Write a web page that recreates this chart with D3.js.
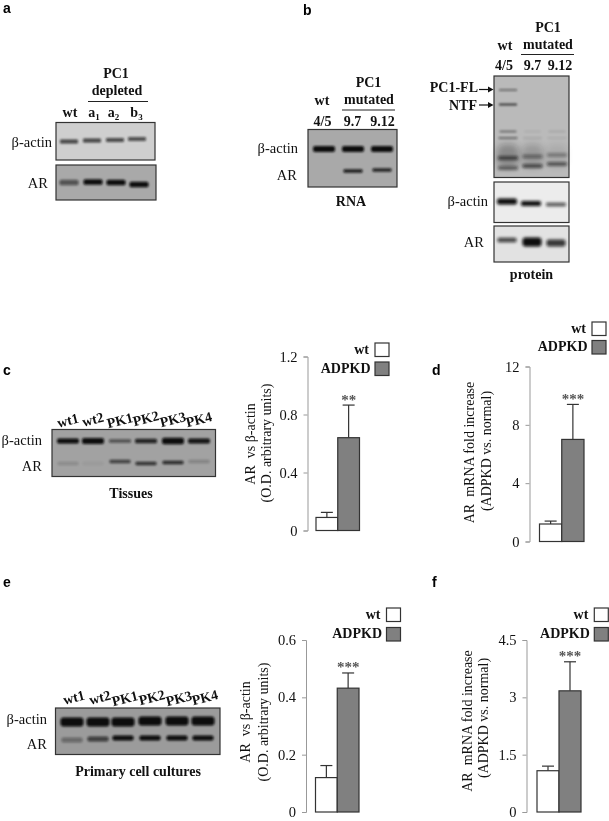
<!DOCTYPE html>
<html>
<head>
<meta charset="utf-8">
<script src="https://cdn.jsdelivr.net/npm/d3@7"></script>
<style>
  html, body { margin: 0; padding: 0; background: #fff; }
  svg { display: block; filter: blur(0.35px); }
  text { font-family: "Liberation Serif", serif; fill: #111; white-space: pre; }
  .b { font-weight: bold; }
  .panel { font-family: "Liberation Sans", sans-serif; font-weight: bold; font-size: 18px; fill: #000; }
</style>
</head>
<body>
<svg id="fig" width="609" height="821"></svg>
<script>
// bar charts
var groups = ["wt", "ADPKD"];
var cValues = [0.09, 0.64], cErrors = [0.125, 0.865], cTicks = [0, 0.4, 0.8, 1.2];
var dValues = [1.2, 7.0], dErrors = [1.4, 9.4], dTicks = [0, 4, 8, 12];
var eValues = [0.12, 0.432], eErrors = [0.162, 0.485], eTicks = [0, 0.2, 0.4, 0.6];
var fValues = [1.08, 3.17], fErrors = [1.2, 3.93], fTicks = [0, 1.5, 3, 4.5];

// blot lane labels
var tissueLanes = ["wt1", "wt2", "PK1", "PK2", "PK3", "PK4"];

// blot band strength, one per lane (0 = no band)
var aActin = [0.7, 0.7, 0.68, 0.65];
var aAR = [0.55, 1, 1, 1];
var rnaActin = [1, 1, 1];
var rnaAR = [0, 0.9, 0.85];
var pcFL = [0.6, 0, 0];
var pcNTF = [0.7, 0, 0];
var pcUp1 = [0.4, 0.06, 0.1];
var pcUp2 = [0.45, 0.1, 0.08];
var pcMid = [0.7, 0.45, 0.38];
var pcLow = [0.55, 0.7, 0.65];
var pActin = [1, 1, 0.7];
var pAR = [0.75, 1, 0.8];
var cActin = [1, 1, 0.55, 0.85, 1, 0.95];
var cAR = [0.15, 0.05, 0.65, 0.75, 0.8, 0.2];
var eActin = [1, 1, 1, 1, 1, 1];
var eAR = [0.35, 0.65, 1, 1, 1, 1];

var svg = d3.select("#fig");
var defs = svg.append("defs");
[["soft", 0.9], ["soft2", 1.5], ["smear", 3.2]].forEach(function(f) {
  defs.append("filter").attr("id", f[0])
      .attr("x", "-30%").attr("y", "-200%").attr("width", "160%").attr("height", "500%")
    .append("feGaussianBlur").attr("stdDeviation", f[1]);
});

// one line of text
function label(str, x, y, opts) {
  opts = opts || {};
  return svg.append("text")
      .attr("x", x).attr("y", y)
      .attr("class", opts.bold ? "b" : null)
      .attr("text-anchor", opts.anchor || "middle")
      .attr("transform", opts.rotate ? "rotate(" + opts.rotate + "," + x + "," + y + ")" : null)
      .style("font-size", (opts.size || 14) + "px")
      .text(str);
}

// grey gel/film with rows of blurred bands
function blot(box, lanes, rows, bg) {
  var g = svg.append("g");
  g.append("rect")
      .attr("x", box[0]).attr("y", box[1])
      .attr("width", box[2] - box[0]).attr("height", box[3] - box[1])
      .attr("fill", bg).attr("stroke", "#333").attr("stroke-width", 1.2);
  rows.forEach(function(row) {
    function bh(i) { return row.hs ? row.hs[i] : row.h; }
    g.selectAll(null)
        .data(row.values)
      .enter().append("rect")
        .attr("x", function(d, i) { return lanes[i] - row.w / 2; })
        .attr("y", function(d, i) { return row.y + (row.dy ? row.dy[i] : 0) - bh(i) / 2; })
        .attr("width", row.w)
        .attr("height", function(d, i) { return bh(i); })
        .attr("rx", function(d, i) { return bh(i) / 3; })
        .attr("fill", "#0a0a0a")
        .attr("opacity", function(d) { return d; })
        .attr("filter", "url(#" + (row.blur || "soft") + ")");
  });
}

// bar chart with axis, error caps and legend
function barChart(c) {
  var y = d3.scaleLinear().domain(c.domain).range([c.y0, c.yTop]);
  var x = d3.scaleBand().domain(groups).range([c.left, c.right]);

  var axis = svg.append("g")
      .attr("transform", "translate(" + c.axisX + ",0)")
      .call(d3.axisLeft(y).tickValues(c.ticks).tickSize(4).tickPadding(6)
        .tickFormat(function(d) { return String(d); }));
  axis.selectAll("path, line").attr("stroke", "#999").attr("stroke-width", 1);
  axis.selectAll("text")
      .style("font-size", "14.5px")
      .attr("fill", "#111")
      .style("font-family", '"Liberation Serif", serif');

  var g = svg.append("g");
  g.selectAll(".err")
      .data(c.errors)
    .enter().append("line")
      .attr("x1", function(d, i) { return x(groups[i]) + x.bandwidth() / 2; })
      .attr("x2", function(d, i) { return x(groups[i]) + x.bandwidth() / 2; })
      .attr("y1", function(d, i) { return y(c.values[i]); })
      .attr("y2", function(d) { return y(d); })
      .attr("stroke", "#333").attr("stroke-width", 1.2);
  g.selectAll(".cap")
      .data(c.errors)
    .enter().append("line")
      .attr("x1", function(d, i) { return x(groups[i]) + x.bandwidth() / 2 - 6; })
      .attr("x2", function(d, i) { return x(groups[i]) + x.bandwidth() / 2 + 6; })
      .attr("y1", function(d) { return y(d); })
      .attr("y2", function(d) { return y(d); })
      .attr("stroke", "#333").attr("stroke-width", 1.2);
  g.selectAll(".bar")
      .data(c.values)
    .enter().append("rect")
      .attr("x", function(d, i) { return x(groups[i]); })
      .attr("y", function(d) { return y(d); })
      .attr("width", x.bandwidth())
      .attr("height", function(d) { return c.y0 - y(d); })
      .attr("fill", function(d, i) { return i ? "#808080" : "#fff"; })
      .attr("stroke", "#333").attr("stroke-width", 1.2);

  label(c.stars, x("ADPKD") + x.bandwidth() / 2, y(c.errors[1]) - 0.5, {size: 15, bold: true}).style("fill", "#555");

  groups.forEach(function(name, i) {
    g.append("rect")
        .attr("x", c.legX).attr("y", c.legY[i])
        .attr("width", 14).attr("height", 13.5)
        .attr("fill", i ? "#808080" : "#fff")
        .attr("stroke", "#333").attr("stroke-width", 1.2);
    label(name, c.legX - 5 + (i ? 0.5 : -1), c.legY[i] + 10.5, {bold: true, anchor: "end"});
  });

  label(c.title[0], c.titleX[0], c.titleY[0], {rotate: -90});
  label(c.title[1], c.titleX[1], c.titleY[1], {rotate: -90});
}

// panel letters
label("a", 3, 12.5, {anchor: "start"}).attr("class", "panel");
label("b", 303, 15, {anchor: "start"}).attr("class", "panel");
label("c", 3, 375, {anchor: "start"}).attr("class", "panel");
label("d", 432, 375, {anchor: "start"}).attr("class", "panel");
label("e", 3, 587, {anchor: "start"}).attr("class", "panel");
label("f", 432, 587, {anchor: "start"}).attr("class", "panel");

// panel a
blot([56, 122.5, 155, 160], [69, 92, 115, 137],
  [{y: 141, h: 4, w: 18, values: aActin, dy: [0.5, -0.5, -1, -2]}], "#cfcfcf");
blot([56, 165, 156, 200], [69, 93, 116, 139],
  [{y: 182.5, h: 5.5, w: 19, values: aAR, dy: [0, -0.5, 0, 2]}], "#a9a9a9");
label("PC1", 116, 78, {bold: true});
label("depleted", 117, 95, {bold: true});
svg.append("line").attr("x1", 88).attr("x2", 148).attr("y1", 101.5).attr("y2", 101.5).attr("stroke", "#222");
label("wt", 70, 116.5, {bold: true});
[["a", "1", 94], ["a", "2", 113.5], ["b", "3", 136.5]].forEach(function(s) {
  var t = label(s[0], s[2], 116.5, {bold: true});
  t.append("tspan").attr("dy", 3).style("font-size", "9px").text(s[1]);
});
label("β-actin", 52, 147, {anchor: "end", size: 14.5});
label("AR", 48, 188, {anchor: "end", size: 14.5});

// panel b, RNA
blot([308, 129.5, 397, 187], [324, 353, 382],
  [{y: 149, h: 6, w: 22, values: rnaActin},
   {y: 171, h: 3.5, w: 19, values: rnaAR, dy: [0, 0, -1]}], "#a9a9a9");
label("PC1", 368.5, 86.5, {bold: true});
label("mutated", 369, 104, {bold: true});
svg.append("line").attr("x1", 342).attr("x2", 395).attr("y1", 110).attr("y2", 110).attr("stroke", "#222");
label("wt", 322, 105, {bold: true});
label("4/5", 322.5, 126, {bold: true});
label("9.7", 352.5, 126, {bold: true});
label("9.12", 382.5, 126, {bold: true});
label("RNA", 351, 206, {bold: true});
label("β-actin", 298, 153, {anchor: "end", size: 14.5});
label("AR", 297, 180, {anchor: "end", size: 14.5});

// panel b, protein
blot([494, 76, 569, 177.5], [508, 532.5, 557],
  [{y: 156, h: 24, w: 22, values: [0.28, 0.18, 0.08], blur: "smear"},
   {y: 90, h: 1.6, w: 18, values: pcFL},
   {y: 104.5, h: 1.8, w: 18, values: pcNTF},
   {y: 131.5, h: 2, w: 17, values: pcUp1},
   {y: 138, h: 2, w: 19, values: pcUp2},
   {y: 158, h: 3.5, w: 20, values: pcMid, dy: [0, -1.5, -3], blur: "soft2"},
   {y: 168, h: 3.5, w: 20, values: pcLow, dy: [0, -2, -4], blur: "soft2"}], "#bababa");
blot([494, 182, 569, 222.5], [507, 531, 556],
  [{y: 201.5, h: 5.5, w: 20, values: pActin, dy: [0, 2, 3], hs: [6, 5, 3.5], blur: "soft2"}], "#ececec");
blot([494, 226, 569, 262], [507, 532, 556],
  [{y: 240, w: 19, values: pAR, dy: [0, 2, 3], hs: [4.5, 9, 7], blur: "soft2"}], "#e2e2e2");
label("PC1", 548, 32, {bold: true});
label("mutated", 548, 49, {bold: true});
svg.append("line").attr("x1", 521).attr("x2", 574).attr("y1", 54.5).attr("y2", 54.5).attr("stroke", "#222");
label("wt", 505, 50, {bold: true});
label("4/5", 504, 70, {bold: true});
label("9.7", 532.5, 70, {bold: true});
label("9.12", 560, 70, {bold: true});
label("PC1-FL", 478, 92, {bold: true, anchor: "end"});
label("NTF", 477, 110, {bold: true, anchor: "end"});
[89.5, 105].forEach(function(yy) {
  svg.append("line").attr("x1", 479).attr("x2", 489).attr("y1", yy).attr("y2", yy).attr("stroke", "#111").attr("stroke-width", 1.2);
  svg.append("path").attr("d", d3.line()([[488, yy - 3], [493.5, yy], [488, yy + 3]])).attr("fill", "#111");
});
label("β-actin", 488, 206, {anchor: "end", size: 14.5});
label("AR", 484, 247, {anchor: "end", size: 14.5});
label("protein", 531.5, 278.5, {bold: true});

// panel c
var cLanes = [68, 93, 120, 146, 173, 199];
blot([52, 429.5, 215.5, 476.5], cLanes,
  [{y: 441, w: 22, values: cActin, hs: [5, 6, 3.5, 4.5, 6.5, 5]},
   {y: 462.5, h: 3.5, w: 21, values: cAR, dy: [1, 1, -1, 1, 0, -1]}], "#a2a2a2");
tissueLanes.forEach(function(name, i) {
  label(name, cLanes[i] + 1, [425, 424, 425, 423, 424, 424][i], {bold: true, rotate: -14});
});
label("β-actin", 42, 445, {anchor: "end", size: 14.5});
label("AR", 42, 471, {anchor: "end", size: 14.5});
label("Tissues", 131, 498, {bold: true});

// panel e
var eLanes = [72, 98, 123, 150, 177, 203];
blot([55.5, 708, 220, 754.5], eLanes,
  [{y: 722, h: 9, w: 23, values: eActin, dy: [0, 0, 0, -1, -1, -1]},
   {y: 739, h: 5, w: 21, values: eAR, dy: [1, 0, -1, -1, -1, -1]}], "#9b9b9b");
tissueLanes.forEach(function(name, i) {
  label(name, eLanes[i] + 3, [702, 702, 703, 702, 703, 702][i], {bold: true, rotate: -14});
});
label("β-actin", 47, 723.5, {anchor: "end", size: 14.5});
label("AR", 47, 748.5, {anchor: "end", size: 14.5});
label("Primary cell cultures", 138, 776, {bold: true});

// bar charts
barChart({domain: [0, 1.2], ticks: cTicks, values: cValues, errors: cErrors, stars: "**",
  axisX: 307.5, y0: 530.5, yTop: 356.5, left: 316, right: 359.5,
  legX: 375, legY: [343, 362], title: ["AR  vs β-actin", "(O.D. arbitrary units)"],
  titleX: [255, 271], titleY: [444, 443]});
barChart({domain: [0, 12], ticks: dTicks, values: dValues, errors: dErrors, stars: "***",
  axisX: 529.5, y0: 541.5, yTop: 366.5, left: 539.5, right: 584,
  legX: 592, legY: [322, 340.5], title: ["AR  mRNA fold increase", "(ADPKD vs. normal)"],
  titleX: [474, 491], titleY: [452.5, 451]});
barChart({domain: [0, 0.6], ticks: eTicks, values: eValues, errors: eErrors, stars: "***",
  axisX: 306, y0: 812, yTop: 640, left: 315.5, right: 359,
  legX: 386.5, legY: [608, 627.5], title: ["AR  vs β-actin", "(O.D. arbitrary units)"],
  titleX: [250, 268], titleY: [722, 722]});
barChart({domain: [0, 4.5], ticks: fTicks, values: fValues, errors: fErrors, stars: "***",
  axisX: 526.5, y0: 812, yTop: 640, left: 537, right: 581,
  legX: 594.3, legY: [608, 627.5], title: ["AR  mRNA fold increase", "(ADPKD vs. normal)"],
  titleX: [472, 488], titleY: [721, 718]});
</script>
</body>
</html>
